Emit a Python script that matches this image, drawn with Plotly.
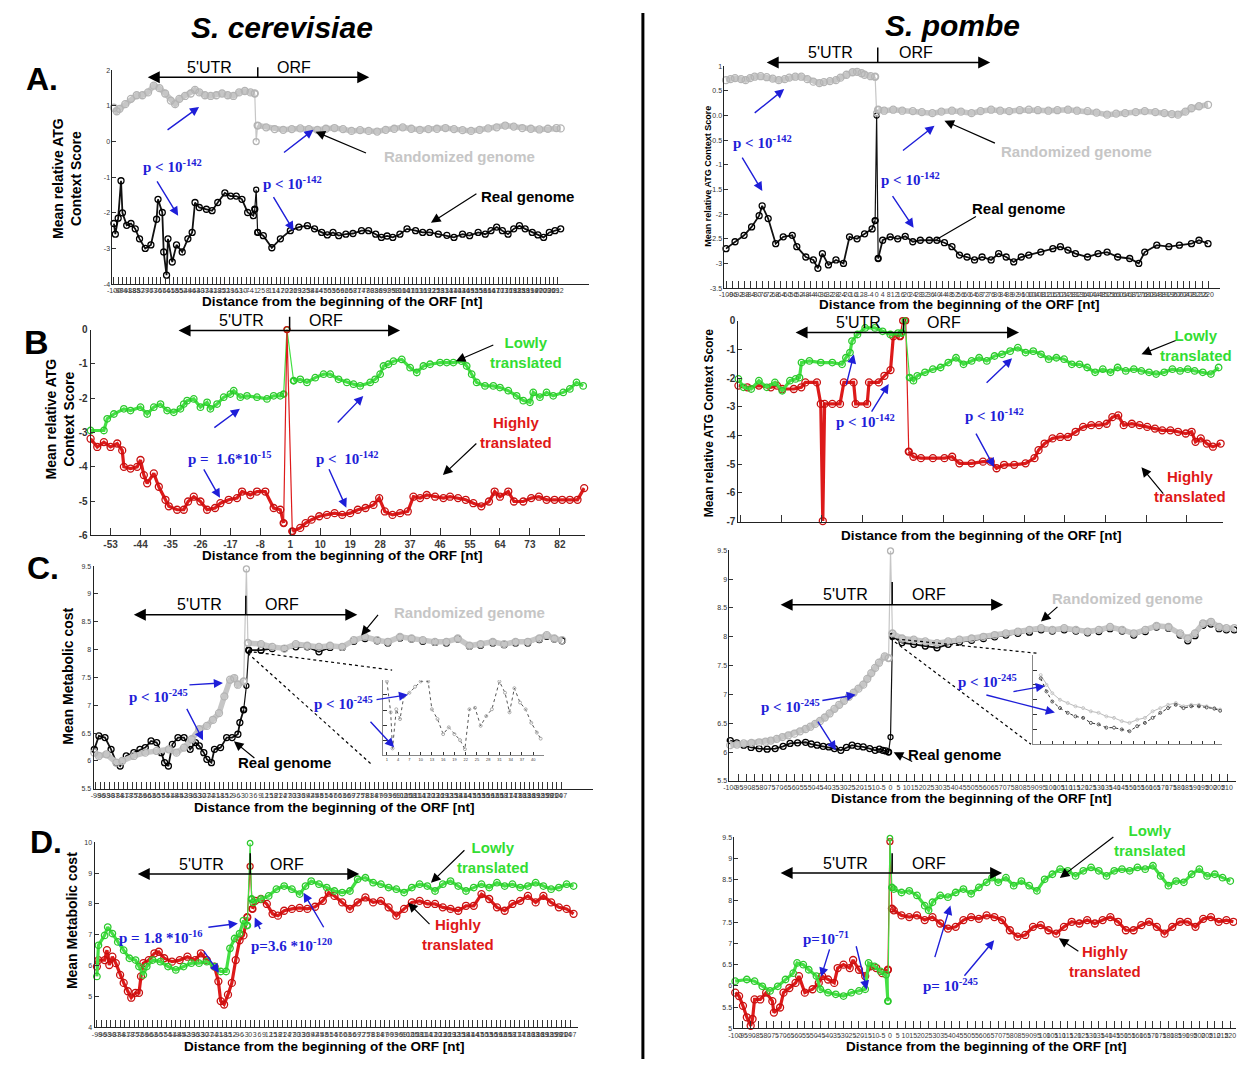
import plotly.graph_objects as go

W, H = 1237, 1065
SANS = "Liberation Sans, Arial, Helvetica, sans-serif"
SERIF = "Liberation Serif, Times New Roman, serif"
BLUE = "#1e1ed8"
GREEN_TXT = "#33dd33"
RED_TXT = "#e01818"
GREY_TXT = "#c6c6c6"

STYLE = {
    "rand": dict(line="#c6c6c6", lw=5.5, mk="#b4b4b4", ms=7),
    "real": dict(line="#111111", lw=1.8, mk="#000000", ms=6),
    "low": dict(line="#44e044", lw=3.2, mk="#2cc92c", ms=6.5),
    "high": dict(line="#dd1a1a", lw=3.2, mk="#c81010", ms=7),
}

# ---------------- S. cerevisiae A: ATG context score, real vs randomized ----------------
A1_RAND_X = [-100, -98, -96, -92, -88, -84, -80, -76, -72, -68, -64, -60, -57, -54, -50, -46, -43, -40,
             -36, -32, -28, -24, -20, -16, -12, -8, -4, -1,
             0,
             1, 7, 13, 19, 25, 31, 37, 43, 49, 55, 61, 67, 73, 79, 85, 91, 97, 103, 109, 115, 121, 127,
             133, 139, 145, 151, 157, 163, 169, 175, 181, 187, 193, 199, 205, 211, 214]
A1_RAND_Y = [0.95, 0.85, 0.92, 1.05, 1.2, 1.3, 1.3, 1.38, 1.57, 1.5, 1.35, 1.15, 1.05, 1.2, 1.28, 1.35, 1.45, 1.38,
             1.3, 1.28, 1.3, 1.35, 1.3, 1.28, 1.38, 1.42, 1.38, 1.35,
             0.0,
             0.45, 0.4, 0.35, 0.33, 0.35, 0.37, 0.35, 0.33, 0.36, 0.38, 0.35, 0.3, 0.32, 0.3, 0.28, 0.33, 0.36, 0.4,
             0.36, 0.33, 0.35, 0.36, 0.38, 0.35, 0.32, 0.3, 0.33, 0.37, 0.4, 0.45, 0.42, 0.38, 0.36, 0.34, 0.36,
             0.38, 0.37]
A1_REAL_X = [-100, -99, -97, -95, -94, -91, -88, -85, -82, -78, -74, -70, -69, -66, -65, -63, -62, -59, -56, -52,
             -48, -45, -43, -40, -35, -31, -27, -22, -18, -14, -10, -6, -2, -1,
             0,
             1, 5, 11, 17, 24, 30, 36, 41, 46, 50, 54, 58, 63, 68, 74, 79, 84, 88, 92, 96, 101, 106, 112, 117,
             122, 128, 134, 139, 145, 150, 156, 161, 165, 169, 173, 177, 181, 185, 189, 194, 198, 202, 206, 210, 214]
A1_REAL_Y = [-2.3, -2.6, -2.15, -1.1, -2.0, -2.35, -2.3, -2.45, -2.73, -3.0, -2.9, -2.18, -1.62, -1.99, -3.1,
             -3.75, -2.73, -3.38, -2.9, -3.1, -2.73, -2.55, -1.71, -1.85, -1.9, -1.94, -1.71, -1.44, -1.53, -1.53,
             -1.62, -1.99, -2.08, -1.9,
             -1.35,
             -2.55, -2.64, -2.98, -2.73, -2.5, -2.4, -2.36, -2.45, -2.55, -2.62, -2.55, -2.64, -2.6, -2.58, -2.5,
             -2.5, -2.6, -2.69, -2.65, -2.69, -2.6, -2.45, -2.5, -2.55, -2.55, -2.6, -2.63, -2.69, -2.6, -2.64,
             -2.55, -2.6, -2.5, -2.4, -2.5, -2.6, -2.45, -2.36, -2.45, -2.55, -2.62, -2.69, -2.55, -2.5, -2.45]
A1_XTICKS = list(range(-100, 215, 3))
A1_YTICKS = [-4, -3, -2, -1, 0, 1, 2]

# ---------------- S. pombe A ----------------
A2_RAND_X = [-100, -97, -94, -90, -87, -84, -81, -77, -73, -69, -65, -61, -58, -54, -50, -46, -42, -38, -35,
             -31, -27, -24, -20, -16, -13, -10, -8, -4, -1,
             0,
             1, 5, 11, 17, 24, 30, 37, 43, 50, 56, 63, 69, 76, 82, 88, 95, 101, 107, 114, 120, 127, 133, 140,
             146, 153, 159, 165, 172, 178, 185, 191, 196, 200, 205, 209, 214, 220]
A2_RAND_Y = [0.72, 0.74, 0.76, 0.74, 0.72, 0.76, 0.79, 0.8, 0.78, 0.75, 0.72, 0.74, 0.77, 0.79, 0.79, 0.74, 0.69,
             0.66, 0.68, 0.7, 0.72, 0.77, 0.83, 0.88, 0.89, 0.86, 0.83, 0.8, 0.79,
             0.05,
             0.12, 0.1, 0.12, 0.1, 0.09, 0.07, 0.05, 0.08, 0.1, 0.08, 0.05, 0.09, 0.12, 0.1, 0.09, 0.11, 0.12,
             0.11, 0.1, 0.11, 0.12, 0.1, 0.09, 0.06, 0.02, 0.04, 0.05, 0.07, 0.09, 0.07, 0.05, 0.03, 0.02, 0.08,
             0.15, 0.19, 0.22]
A2_REAL_X = [-100, -94, -88, -83, -78, -76, -72, -67, -62, -56, -53, -47, -42, -39, -36, -32, -27, -22, -18,
             -13, -8, -3, -1,
             0,
             1, 4, 9, 14, 19, 24, 29, 35, 40, 45, 50, 55, 60, 65, 70, 76, 81, 86, 91, 96, 101, 109, 117, 122,
             127, 132, 140, 147, 153, 160, 168, 174, 178, 186, 194, 201, 209, 214, 220]
A2_REAL_Y = [-2.7, -2.56, -2.43, -2.26, -2.03, -1.83, -2.09, -2.6, -2.46, -2.43, -2.66, -2.87, -2.93, -3.1, -2.8,
             -3.03, -2.93, -3.0, -2.46, -2.5, -2.4, -2.3, -2.13,
             0.0,
             -2.9, -2.53, -2.46, -2.5, -2.45, -2.56, -2.53, -2.53, -2.53, -2.58, -2.66, -2.83, -2.87, -2.93,
             -2.87, -2.93, -2.8, -2.87, -2.97, -2.87, -2.83, -2.77, -2.7, -2.66, -2.73, -2.8, -2.87, -2.8, -2.77,
             -2.87, -2.9, -3.0, -2.77, -2.63, -2.66, -2.63, -2.6, -2.53, -2.6]
A2_XTICKS = list(range(-100, 221, 4))
A2_YTICKS = [-3.5, -3, -2.5, -2, -1.5, -1, -0.5, 0, 0.5, 1]
A2_YLABELS = ["-3.5", "-3", "-2.5", "-2", "-1.5", "-1", "-0.5", "0.0", "0.5", "1"]

# ---------------- S. cerevisiae B: lowly vs highly translated ----------------
B1_LOW_X = [-59, -55, -54, -52, -49, -47, -44, -42, -40, -38, -36, -34, -32, -31, -30, -28, -26, -24, -23, -21,
            -19, -17, -16, -14, -12, -9, -6, -4, -2, -1,
            0,
            2, 4, 6, 8.5, 11, 13, 15.5, 18, 20, 22, 25, 26.5, 28, 29, 30.5, 32, 34.5, 37, 39, 41, 43, 46, 48,
            50, 52.5, 54, 55.5, 57, 59.5, 62, 64, 66.5, 69, 71, 73, 74, 76, 78, 80, 83, 85, 87, 89]
B1_LOW_Y = [-2.94, -2.94, -2.6, -2.46, -2.31, -2.36, -2.26, -2.46, -2.26, -2.17, -2.36, -2.41, -2.31, -2.17, -2.07,
            -2.02, -2.26, -2.12, -2.31, -2.17, -1.97, -1.88, -1.78, -1.97, -1.93, -1.97, -2.02, -1.93, -1.93, -1.88,
            0.0,
            -1.49, -1.45, -1.54, -1.4, -1.3, -1.3, -1.45, -1.54, -1.59, -1.64, -1.54, -1.45, -1.3, -1.06, -1.01,
            -0.92, -0.87, -1.11, -1.25, -1.06, -1.01, -0.96, -0.96, -0.96, -0.92, -1.06, -1.3, -1.54, -1.64, -1.64,
            -1.69, -1.78, -1.93, -2.07, -2.12, -1.83, -1.97, -1.83, -1.93, -1.83, -1.73, -1.54, -1.64]
B1_HIGH_X = [-59, -57, -55, -53, -51, -49.5, -49, -47, -45, -44, -43, -42, -40, -38.5, -36.5, -35.5, -33, -31,
             -29.7, -28, -26, -24, -21.6, -20, -17.5, -15, -13.5, -11, -9, -6.5, -4, -2, -1,
             0,
             1.6, 4, 5.6, 7.4, 9.7, 12, 14.3, 16.6, 19, 21.3, 23.6, 26, 27.7, 29.4, 31.7, 34, 36.3, 38, 40, 42,
             44.5, 47, 49, 51.4, 53.7, 56, 58.4, 60.7, 62.4, 64, 66.5, 68.2, 71, 73.4, 75.7, 78, 80.4, 82.7, 85,
             87.3, 89.3]
B1_HIGH_Y = [-3.18, -3.42, -3.28, -3.42, -3.32, -3.52, -4.0, -4.05, -4.0, -3.8, -4.24, -4.48, -4.19, -4.58, -4.96,
             -5.15, -5.25, -5.25, -5.01, -4.87, -5.01, -5.25, -5.2, -5.06, -4.96, -4.91, -4.72, -4.82, -4.72, -4.72,
             -5.2, -5.25, -5.64,
             0.0,
             -5.88, -5.78, -5.64, -5.54, -5.44, -5.4, -5.35, -5.4, -5.35, -5.25, -5.2, -5.11, -4.91, -5.3, -5.4,
             -5.35, -5.3, -4.87, -4.91, -4.82, -4.87, -4.91, -4.87, -4.91, -4.96, -5.06, -5.15, -5.01, -4.72, -4.87,
             -4.72, -5.01, -5.01, -4.91, -4.87, -4.96, -4.96, -4.96, -4.96, -4.96, -4.62]
B1_XTICKS = list(range(-53, 83, 9))
B1_YTICKS = [-6, -5, -4, -3, -2, -1, 0]

# ---------------- S. pombe B ----------------
B2_LOW_X = [-81, -78.5, -74.7, -70.9, -67, -63, -59.4, -55.6, -52.8, -50.9, -49.9, -46, -40.4, -34.7, -29.9, -28,
            -26, -25, -22.3, -18.5, -13.7, -9.9, -6.1, -2.3, -0.5,
            1, 3.4, 5.3,
            7.2, 11, 14.9, 18.7, 22.5, 26.3, 30, 34, 37.7, 41.5, 45.3, 49, 53, 56.8, 60.6, 64.4, 68.2, 72, 75.8,
            79.6, 83.4, 87.2, 91, 94.9, 98.7, 102.5, 106, 110, 114, 117.7, 121.5, 125, 129, 133, 136.8, 140.6, 144,
            148, 152, 155.8]
B2_LOW_Y = [-2.03, -2.32, -2.38, -2.09, -2.32, -2.15, -2.44, -2.09, -2.03, -1.98, -1.46, -1.4, -1.46, -1.46, -1.52,
            -1.29, -1.11, -0.71, -0.48, -0.25, -0.25, -0.37, -0.48, -0.43, -0.43,
            0.0, -1.98, -2.09,
            -1.92, -1.8, -1.69, -1.63, -1.46, -1.29, -1.52, -1.4, -1.29, -1.4, -1.23, -1.17, -1.06, -0.94, -1.11,
            -1.06, -1.17, -1.34, -1.29, -1.34, -1.52, -1.52, -1.63, -1.8, -1.69, -1.8, -1.63, -1.75, -1.69, -1.75,
            -1.8, -1.86, -1.8, -1.69, -1.75, -1.69, -1.75, -1.8, -1.86, -1.63]
B2_HIGH_X = [-81, -76.6, -70.9, -65, -62, -59.4, -53.7, -50, -48, -42.3, -40.4, -39.4, -38.5, -34.7, -30.9, -29,
             -24.2, -23.2, -17.5, -16.6, -11.8, -9, -6, -4.6, -1.3,
             0, 1.5, 3,
             5.3, 9, 14.9, 20.6, 24.4, 28, 34, 39.6, 43.4, 46.3, 50, 55, 60.6, 65, 67, 70, 73.9, 77.7, 81.5, 85.3,
             89, 93, 96.8, 100.6, 103.4, 106.3, 109, 113, 116.8, 120.6, 124.4, 128, 132, 135.8, 139.6, 142.5,
             144.4, 147, 150, 153, 156.8]
B2_HIGH_Y = [-2.26, -2.32, -2.26, -2.32, -2.26, -2.38, -2.38, -2.32, -2.15, -2.15, -2.9, -6.98, -2.9, -2.9, -2.9,
             -2.15, -2.15, -2.9, -2.9, -2.15, -2.15, -1.92, -1.72, -0.54, -0.54,
             0.0, 0.0, -4.56,
             -4.74, -4.79, -4.79, -4.79, -4.74, -4.97, -4.97, -4.91, -4.91, -5.14, -5.02, -5.02, -4.97, -4.79,
             -4.51, -4.28, -4.1, -4.05, -4.05, -3.87, -3.7, -3.64, -3.64, -3.59, -3.36, -3.3, -3.64, -3.59, -3.64,
             -3.7, -3.76, -3.82, -3.82, -3.87, -3.93, -3.87, -4.22, -4.1, -4.28, -4.39, -4.28]
B2_XTICKS = list(range(-80, 141, 20))
B2_YTICKS = [-7, -6, -5, -4, -3, -2, -1, 0]

# ---------------- S. cerevisiae C: metabolic cost, real vs randomized ----------------
C1_RAND_X = [-100, -97, -92, -85.5, -81.7, -74, -66.5, -59, -51, -46, -41, -36, -31, -26, -22, -18, -14.5,
             -10.7, -8, -5.6, -1.8,
             0,
             1, 9.6, 17, 25, 32.5, 40, 47.7, 55, 63, 70.6, 78, 86, 93, 101, 108.6, 116, 124, 131.5, 139, 146.7,
             154, 162, 169.5, 177, 185, 192.6, 197.5, 202.5, 207.6]
C1_RAND_Y = [6.15, 6.09, 6.12, 5.97, 6.0, 6.09, 6.15, 6.18, 6.21, 6.15, 6.24, 6.39, 6.57, 6.63, 6.74, 6.86, 7.16,
             7.46, 7.49, 7.37, 7.43,
             9.45,
             8.12, 8.1, 8.05, 8.02, 8.1, 8.07, 8.05, 8.07, 8.05, 8.17, 8.23, 8.17, 8.14, 8.23, 8.2, 8.17, 8.14,
             8.14, 8.2, 8.07, 8.1, 8.14, 8.1, 8.14, 8.14, 8.2, 8.26, 8.2, 8.17]
C1_REAL_X = [-100, -97, -93, -89, -85.5, -83, -79, -74, -70, -66.5, -62.7, -59, -56, -53.8, -51.3, -48.7, -45, -41,
             -37, -33.5, -31, -28, -26, -23, -21, -17, -13, -9.4, -5.6, -4.3, -1.8,
             0,
             1.5, 9.6, 17, 25, 32.5, 40, 47.7, 55, 63, 70.6, 78, 86, 93, 101, 108.6, 116, 124, 131.5, 139, 146.7,
             154, 162, 169.5, 177, 185, 192.6, 197.5, 202.5, 207.6]
C1_REAL_Y = [6.21, 6.45, 6.42, 6.21, 5.97, 5.91, 6.09, 6.15, 6.21, 6.24, 6.36, 6.33, 6.15, 5.97, 5.91, 6.3, 6.42,
             6.42, 6.21, 6.33, 6.27, 6.15, 6.03, 5.97, 6.21, 6.24, 6.42, 6.42, 6.48, 6.69, 6.92,
             7.35,
             7.99, 7.99, 8.02, 8.02, 8.05, 8.05, 7.96, 8.04, 8.04, 8.15, 8.2, 8.16, 8.12, 8.21, 8.19, 8.15, 8.13,
             8.12, 8.19, 8.06, 8.08, 8.12, 8.09, 8.12, 8.12, 8.18, 8.24, 8.19, 8.16]
C1_XTICKS = list(range(-99, 208, 3))
C_YTICKS = [5.5, 6, 6.5, 7, 7.5, 8, 8.5, 9, 9.5]

# close-up of the first ORF codons (inset)
C1_INSET_X = [1, 2, 2.5, 3.5, 4.5, 5.5, 7, 8.5, 10, 12, 13, 14.5, 16, 17.5, 19, 20.5, 21.8, 23, 24.5, 26, 27.5,
              29, 31, 32.5, 33.7, 35, 36.5, 38, 39.5, 41, 42]
C1_INSET_Y = [8.058, 8.017, 7.969, 8.021, 8.008, 8.038, 8.043, 8.051, 8.058, 8.058, 8.021, 8.008, 7.988, 7.997,
              7.988, 7.98, 7.968, 8.021, 8.023, 7.999, 8.012, 8.021, 8.058, 8.043, 8.017, 8.049, 8.03, 8.021,
              8.003, 7.99, 7.982]

# ---------------- S. pombe C ----------------
C2_RAND_X = [-100, -95.8, -91.6, -86.8, -82, -78, -74.7, -71, -67.5, -63.8, -60, -56.5, -53, -50, -47, -44, -41,
             -38, -35, -32, -29, -26, -23, -20, -17, -14.5, -12, -9.6, -7.2, -3.6, -1.2,
             0,
             1.2, 7.2, 14.5, 21.7, 29, 36, 43, 50.6, 58, 65, 72, 79.5, 86.7, 94, 101, 108.4, 115.7, 123, 130, 137,
             144.6, 151.8, 159, 166, 173.5, 180.7, 185.5, 190, 195, 200, 205, 209.6, 214.5]
C2_RAND_Y = [6.12, 6.13, 6.15, 6.16, 6.17, 6.18, 6.2, 6.23, 6.26, 6.29, 6.32, 6.36, 6.4, 6.44, 6.49, 6.54, 6.6,
             6.67, 6.75, 6.82, 6.89, 6.96, 7.03, 7.1, 7.17, 7.27, 7.37, 7.46, 7.55, 7.66, 7.63,
             9.49,
             8.06, 7.97, 7.95, 7.92, 7.89, 7.92, 7.95, 7.97, 8.0, 8.03, 8.06, 8.09, 8.12, 8.15, 8.12, 8.15, 8.12,
             8.09, 8.12, 8.17, 8.12, 8.06, 8.12, 8.19, 8.17, 8.06, 7.97, 8.06, 8.23, 8.26, 8.17, 8.15, 8.15]
C2_REAL_X = [-100, -96, -91.6, -87, -82, -77, -72, -67, -62.7, -58, -53, -49.5, -45.8, -42, -38.5, -35, -31,
             -27.5, -24, -20.5, -17, -13, -9.6, -7, -4.8, -3, -1.2,
             0,
             1.2, 7.2, 14.5, 21.7, 29, 36, 43, 50.6, 58, 65, 72, 79.5, 86.7, 94, 101, 108.4, 115.7, 123, 130, 137,
             144.6, 151.8, 159, 166, 173.5, 180.7, 185.5, 190, 195, 200, 205, 209.6, 214.5]
C2_REAL_Y = [6.2, 6.16, 6.12, 6.08, 6.06, 6.05, 6.06, 6.1, 6.15, 6.16, 6.17, 6.14, 6.12, 6.1, 6.09, 6.06, 6.03,
             6.08, 6.12, 6.1, 6.09, 6.06, 6.03, 6.05, 6.03, 6.02, 6.0,
             6.26,
             8.01, 7.9, 7.87, 7.84, 7.81, 7.87, 7.91, 7.94, 7.97, 8.0, 8.03, 8.06, 8.08, 8.12, 8.1, 8.12, 8.1,
             8.07, 8.09, 8.14, 8.1, 8.03, 8.09, 8.17, 8.15, 8.03, 7.93, 8.02, 8.2, 8.22, 8.14, 8.12, 8.12]
C2_XTICKS = list(range(-100, 216, 5))

C2_INSET_X = [2, 3.5, 5, 7, 9, 11, 13, 15, 17, 19, 21, 23, 25, 27, 29, 31, 33, 35, 37, 39, 41, 43, 45, 47, 48.5]
C2_INSET_RAND = [8.033, 8.0, 7.972, 7.95, 7.939, 7.928, 7.922, 7.911, 7.906, 7.894, 7.889, 7.878, 7.872, 7.883,
                 7.889, 7.911, 7.922, 7.933, 7.939, 7.928, 7.933, 7.933, 7.928, 7.922, 7.917]
C2_INSET_REAL = [8.022, 7.978, 7.944, 7.922, 7.906, 7.894, 7.889, 7.872, 7.867, 7.856, 7.856, 7.85, 7.844, 7.861,
                 7.872, 7.889, 7.906, 7.922, 7.933, 7.922, 7.928, 7.928, 7.924, 7.92, 7.913]

# ---------------- S. cerevisiae D: metabolic cost, lowly vs highly translated ----------------
D1_LOW_X = [-99, -98, -94, -92, -89, -85.5, -81.7, -78, -74, -71.8, -69, -66.8, -63, -58, -53, -48, -43, -38, -33,
            -28, -23, -19, -15.5, -13, -10, -6.8, -4.3, -1.8,
            0,
            1, 2, 7, 12, 17, 22, 27, 32, 35.8, 39.5, 44.5, 49.5, 54.5, 59.5, 64.5, 69.5, 74.5, 79.5, 84.5, 89.5,
            94.5, 99.5, 104.5, 109.5, 114.5, 119.5, 124.5, 129.5, 134.5, 139.5, 144.5, 149.5, 154.5, 159.5, 164.5,
            169.5, 174.5, 179.5, 184.5, 189.5, 194.5, 199.5, 204.5, 209]
D1_LOW_Y = [5.65, 6.66, 6.98, 7.25, 7.04, 6.77, 6.5, 6.24, 6.18, 5.97, 5.7, 5.97, 6.18, 6.13, 5.97, 5.86, 5.97,
            6.08, 6.08, 6.13, 5.97, 5.81, 5.81, 6.56, 6.88, 7.04, 7.46, 7.3,
            9.97,
            8.16, 8.05, 8.16, 8.26, 8.48, 8.58, 8.48, 8.32, 8.58, 8.74, 8.64, 8.53, 8.42, 8.37, 8.42, 8.8, 8.85,
            8.69, 8.64, 8.53, 8.48, 8.37, 8.53, 8.64, 8.58, 8.42, 8.64, 8.74, 8.58, 8.42, 8.53, 8.64, 8.53, 8.69,
            8.58, 8.64, 8.53, 8.58, 8.69, 8.58, 8.48, 8.53, 8.64, 8.58]
D1_HIGH_X = [-99, -98, -94, -92.5, -91, -89, -86.8, -84, -81.7, -79, -76.8, -74, -71.8, -70.5, -69, -65.5, -61.8,
             -59, -55.5, -50.5, -45.5, -40.5, -35.5, -31.8, -28, -23, -20.5, -19, -16.8, -14.3, -11.8, -9.3, -6.8,
             -4.3, -1.8,
             0,
             1.5, 3.3, 7, 10.8, 14.5, 18, 22, 27, 32, 37, 42, 47, 50.8, 54.5, 59.5, 64.5, 69.5, 74.5, 79.5, 84.5,
             89.5, 94.5, 99.5, 104.5, 109.5, 114.5, 119.5, 124.5, 129.5, 134.5, 139.5, 144.5, 149.5, 154.5, 159.5,
             164.5, 169.5, 174.5, 179.5, 184.5, 189.5, 194.5, 199.5, 204.5, 209]
D1_HIGH_Y = [5.97, 6.18, 6.18, 6.5, 6.02, 6.29, 6.08, 5.7, 5.44, 5.17, 4.96, 5.12, 5.12, 5.65, 6.08, 6.18, 6.4,
             6.45, 6.24, 6.13, 6.18, 6.29, 6.18, 6.4, 6.18, 5.97, 5.49, 4.85, 4.74, 5.06, 5.44, 6.18, 6.82, 6.98,
             7.57,
             9.22,
             7.84, 8.1, 8.16, 8.0, 7.68, 7.62, 7.78, 7.84, 7.87, 7.84, 7.91, 8.1, 8.37, 8.26, 8.05, 7.84, 8.05, 8.21,
             8.05, 8.1, 7.89, 7.62, 7.84, 8.05, 8.1, 8.0, 8.0, 7.89, 7.84, 7.78, 7.94, 7.94, 8.32, 8.16, 7.89, 7.78,
             8.0, 8.1, 8.26, 8.05, 8.26, 8.05, 7.89, 7.84, 7.68]
D1_XTICKS = list(range(-99, 210, 3))
D1_YTICKS = [4, 5, 6, 7, 8, 9, 10]

# ---------------- S. pombe D ----------------
D2_LOW_X = [-100, -92.5, -87.5, -82.5, -77.5, -72.5, -67.5, -62.5, -60, -56, -52.5, -47.5, -45, -40, -35, -30, -25,
            -20, -16, -13.8, -10, -6, -2.5, -1.3,
            0,
            1.3, 2.5, 7.5, 12.5, 17.5, 22.5, 25, 27.5, 32.5, 37.5, 42.5, 47.5, 52.5, 57.5, 62.5, 66, 70, 75, 80,
            85, 90, 95, 100, 105, 110, 115, 120, 125, 130, 135, 140, 145, 150, 155, 160, 165, 170, 175, 180, 185,
            190, 195, 200, 205, 210, 215, 220]
D2_LOW_Y = [6.11, 6.15, 6.11, 5.99, 5.88, 5.99, 6.15, 6.3, 6.54, 6.5, 6.38, 6.23, 5.92, 5.84, 5.8, 5.76, 5.84,
            5.88, 5.92, 6.54, 6.46, 6.34, 6.26, 5.64,
            9.48,
            8.32, 8.28, 8.2, 8.24, 8.13, 7.89, 7.78, 7.97, 8.13, 8.09, 8.2, 8.28, 8.17, 8.32, 8.44, 8.55, 8.44,
            8.55, 8.36, 8.47, 8.36, 8.24, 8.51, 8.63, 8.75, 8.71, 8.59, 8.71, 8.79, 8.71, 8.59, 8.71, 8.75, 8.71,
            8.79, 8.75, 8.83, 8.59, 8.36, 8.47, 8.44, 8.63, 8.75, 8.59, 8.63, 8.55, 8.47]
D2_HIGH_X = [-100, -97.5, -95, -92.5, -90, -88.8, -87.5, -83.8, -80, -76, -75, -71, -68.8, -65, -61, -58.8, -55,
             -50, -46, -43.8, -40, -36, -33.8, -30, -26, -23.8, -20, -16, -12.5, -8.8, -5, -1.3,
             0,
             1.3, 2.5, 7.5, 12.5, 17.5, 22.5, 27.5, 32.5, 37.5, 42.5, 47.5, 52.5, 57.5, 62.5, 67.5, 72.5, 77.5,
             82.5, 87.5, 92.5, 97.5, 102.5, 107.5, 112.5, 117.5, 122.5, 127.5, 132.5, 137.5, 142.5, 147.5, 152.5,
             157.5, 162.5, 167.5, 172.5, 177.5, 182.5, 187.5, 192.5, 197.5, 202.5, 207.5, 212.5, 217.5, 222]
D2_HIGH_Y = [5.84, 5.76, 5.53, 5.26, 5.06, 5.22, 5.68, 5.68, 5.84, 5.64, 5.37, 5.49, 5.84, 5.95, 6.07, 6.23, 5.84,
             5.92, 6.07, 6.23, 6.15, 6.07, 6.42, 6.5, 6.42, 6.61, 6.38, 6.23, 6.46, 6.42, 6.3, 6.38,
             9.4,
             7.82, 7.78, 7.66, 7.62, 7.66, 7.55, 7.62, 7.47, 7.35, 7.39, 7.55, 7.62, 7.58, 7.66, 7.62, 7.55, 7.31,
             7.16, 7.2, 7.39, 7.43, 7.31, 7.23, 7.39, 7.51, 7.47, 7.55, 7.47, 7.55, 7.62, 7.51, 7.31, 7.31, 7.43,
             7.51, 7.39, 7.23, 7.39, 7.51, 7.51, 7.39, 7.58, 7.62, 7.51, 7.55, 7.51]
D2_XTICKS = list(range(-100, 224, 5))
D2_YTICKS = [5, 5.5, 6, 6.5, 7, 7.5, 8, 8.5, 9, 9.5]


def num(v):
    return f"{v:g}"


# panel geometry in page pixels: (left, right, top, bottom); "jump" = last x of the start-codon spike
PANELS = [
    dict(n=1, px=(107, 586, 66, 282), xr=[-101, 234], yr=[-4, 2], jump=0.5,
         xt=A1_XTICKS, xl=[num(v) for v in A1_XTICKS], xfs=7,
         yt=A1_YTICKS, yl=[num(v) for v in A1_YTICKS], yfs=7, ybold=False,
         series=[("real", A1_REAL_X, A1_REAL_Y), ("rand", A1_RAND_X, A1_RAND_Y)]),
    dict(n=2, px=(722, 1220, 62, 286), xr=[-101, 228], yr=[-3.5, 1], jump=0.5,
         xt=A2_XTICKS, xl=[num(v) for v in A2_XTICKS], xfs=7,
         yt=A2_YTICKS, yl=A2_YLABELS, yfs=7, ybold=False,
         series=[("real", A2_REAL_X, A2_REAL_Y), ("rand", A2_RAND_X, A2_RAND_Y)]),
    dict(n=3, px=(85, 582, 328, 536), xr=[-59, 89.6], yr=[-6, 0], jump=0.5,
         xt=B1_XTICKS, xl=[num(v) for v in B1_XTICKS], xfs=10,
         yt=B1_YTICKS, yl=[num(v) for v in B1_YTICKS], yfs=10, ybold=True,
         series=[("low", B1_LOW_X, B1_LOW_Y), ("high", B1_HIGH_X, B1_HIGH_Y)]),
    dict(n=4, px=(736, 1223, 319, 522), xr=[-81, 158], yr=[-7, 0], jump=2,
         xt=B2_XTICKS, xl=["" for _ in B2_XTICKS], xfs=6,
         yt=B2_YTICKS, yl=[num(v) for v in B2_YTICKS], yfs=10, ybold=True,
         series=[("high", B2_HIGH_X, B2_HIGH_Y), ("low", B2_LOW_X, B2_LOW_Y)]),
    dict(n=5, px=(88, 590, 567, 792), xr=[-100.5, 228], yr=[5.5, 9.5], jump=0.5,
         xt=C1_XTICKS, xl=[num(v) for v in C1_XTICKS], xfs=7,
         yt=C_YTICKS, yl=[num(v) for v in C_YTICKS], yfs=7, ybold=False,
         series=[("real", C1_REAL_X, C1_REAL_Y), ("rand", C1_RAND_X, C1_RAND_Y)]),
    dict(n=6, px=(727, 1236, 551, 784), xr=[-100.5, 215.6], yr=[5.5, 9.5], jump=0.5,
         xt=C2_XTICKS, xl=[num(v) for v in C2_XTICKS], xfs=7,
         yt=C_YTICKS, yl=[num(v) for v in C_YTICKS], yfs=7, ybold=False,
         series=[("real", C2_REAL_X, C2_REAL_Y), ("rand", C2_RAND_X, C2_RAND_Y)]),
    dict(n=7, px=(89, 575, 846, 1033), xr=[-100.5, 212], yr=[4, 10], jump=0.5,
         xt=D1_XTICKS, xl=[num(v) for v in D1_XTICKS], xfs=7,
         yt=D1_YTICKS, yl=[num(v) for v in D1_YTICKS], yfs=7, ybold=False,
         series=[("high", D1_HIGH_X, D1_HIGH_Y), ("low", D1_LOW_X, D1_LOW_Y)]),
    dict(n=8, px=(732, 1236, 841, 1034), xr=[-100.5, 223.7], yr=[5, 9.5], jump=0.5,
         xt=D2_XTICKS, xl=[num(v) for v in D2_XTICKS], xfs=7,
         yt=D2_YTICKS, yl=[num(v) for v in D2_YTICKS], yfs=7, ybold=False,
         series=[("high", D2_HIGH_X, D2_HIGH_Y), ("low", D2_LOW_X, D2_LOW_Y)]),
]

fig = go.Figure()


def refs(n):
    return ("x" if n == 1 else f"x{n}", "y" if n == 1 else f"y{n}")


def keys(n):
    return ("xaxis" if n == 1 else f"xaxis{n}", "yaxis" if n == 1 else f"yaxis{n}")


def add_axes(n, px, xr, yr, xt, xl, xfs, yt, yl, yfs, ybold, lw=1.0, lc="#222", tl=7):
    xref, yref = refs(n)
    xk, yk = keys(n)
    x0, x1, yt_px, yb_px = px
    yl_txt = [f"<b>{s}</b>" for s in yl] if ybold else yl
    xl_txt = [f"<b>{s}</b>" for s in xl] if xfs >= 9 else xl
    fig.update_layout(**{
        xk: dict(domain=[x0 / W, x1 / W], range=xr, anchor=yref, showline=True, linecolor=lc,
                 linewidth=lw, ticks="inside", ticklen=tl, tickwidth=1, tickcolor="#333",
                 tickmode="array", tickvals=xt, ticktext=xl_txt, tickangle=0,
                 tickfont=dict(size=xfs, family=SANS, color="#3a3a3a"), showgrid=False,
                 zeroline=False, mirror=False),
        yk: dict(domain=[1 - yb_px / H, 1 - yt_px / H], range=yr, anchor=xref, showline=True,
                 linecolor=lc, linewidth=lw, ticks="inside", ticklen=4, tickwidth=1, tickcolor="#333",
                 tickmode="array", tickvals=yt, ticktext=yl_txt,
                 tickfont=dict(size=yfs, family=SANS, color="#333"), showgrid=False, zeroline=False),
    })


def scatter(n, xs, ys, color, lw, mk, ms):
    xref, yref = refs(n)
    fig.add_trace(go.Scatter(
        x=xs, y=ys, xaxis=xref, yaxis=yref, mode="lines+markers", cliponaxis=False,
        line=dict(color=color, width=lw),
        marker=dict(symbol="circle-open", size=ms, color=mk, line=dict(width=1.3)),
        hoverinfo="skip", showlegend=False))


def add_series(n, kind, xs, ys, jump):
    """Thick band for the 5'UTR and ORF parts, thin line through the start-codon spike."""
    s = STYLE[kind]
    utr = [i for i, v in enumerate(xs) if v < 0]
    spike = [i for i, v in enumerate(xs) if 0 <= v <= jump]
    orf = [i for i, v in enumerate(xs) if v > jump]
    link = [utr[-1]] + spike + [orf[0]]
    scatter(n, [xs[i] for i in link], [ys[i] for i in link], s["line"], 1.2, s["mk"], s["ms"] - 1)
    for part in (utr, orf):
        scatter(n, [xs[i] for i in part], [ys[i] for i in part], s["line"], s["lw"], s["mk"], s["ms"])


for p in PANELS:
    add_axes(p["n"], p["px"], p["xr"], p["yr"], p["xt"], p["xl"], p["xfs"], p["yt"], p["yl"],
             p["yfs"], p["ybold"])
    for kind, xs, ys in p["series"]:
        add_series(p["n"], kind, xs, ys, p["jump"])

# insets (close-ups of the ORF start in panel C)
add_axes(9, (379, 541, 682, 758), [0, 43], [7.96, 8.06], list(range(1, 43, 3)),
         [str(v) for v in range(1, 43, 3)], 4, [7.96, 7.98, 8.0, 8.02, 8.04, 8.06],
         ["", "", "", "", "", ""], 4, False, lw=0.8, lc="#888", tl=3)
fig.add_trace(go.Scatter(x=C1_INSET_X, y=C1_INSET_Y, xaxis="x9", yaxis="y9", mode="lines+markers",
                         line=dict(color="#555", width=1, dash="dot"),
                         marker=dict(symbol="circle-open", size=3, color="#aaa"),
                         hoverinfo="skip", showlegend=False))
add_axes(10, (1032, 1222, 657, 747), [0, 49], [7.8, 8.1], list(range(2, 49, 3)),
         ["" for _ in range(2, 49, 3)], 4, [7.8, 7.85, 7.9, 7.95, 8.0, 8.05, 8.1],
         ["", "", "", "", "", "", ""], 4, False, lw=0.8, lc="#888", tl=3)
fig.add_trace(go.Scatter(x=C2_INSET_X, y=C2_INSET_RAND, xaxis="x10", yaxis="y10", mode="lines+markers",
                         line=dict(color="#bbb", width=1),
                         marker=dict(symbol="circle-open", size=3, color="#c8c8c8"),
                         hoverinfo="skip", showlegend=False))
fig.add_trace(go.Scatter(x=C2_INSET_X, y=C2_INSET_REAL, xaxis="x10", yaxis="y10", mode="lines+markers",
                         line=dict(color="#333", width=1, dash="dot"),
                         marker=dict(symbol="circle-open", size=3, color="#555"),
                         hoverinfo="skip", showlegend=False))


# ---------------- annotations ----------------
ann = []
shapes = []


def T(px, py, s, size=15, color="black", family=SANS, bold=True, italic=False, xanchor="center", angle=0):
    if bold:
        s = f"<b>{s}</b>"
    if italic:
        s = f"<i>{s}</i>"
    ann.append(dict(x=px / W, y=1 - py / H, xref="paper", yref="paper", text=s, showarrow=False,
                    xanchor=xanchor, yanchor="middle", textangle=angle,
                    font=dict(size=size, color=color, family=family)))


def ARW(x0, y0, x1, y1, color=BLUE, width=1.4, size=1.3, head=2):
    ann.append(dict(x=x1 / W, y=1 - y1 / H, xref="paper", yref="paper", ax=x0 - x1, ay=y0 - y1,
                    axref="pixel", ayref="pixel", text="", showarrow=True, arrowhead=head,
                    arrowsize=size, arrowwidth=width, arrowcolor=color))


def DBL(x0, x1, y):
    ann.append(dict(x=x1 / W, y=1 - y / H, xref="paper", yref="paper", ax=x0 - x1, ay=0,
                    axref="pixel", ayref="pixel", text="", showarrow=True, arrowside="end+start",
                    arrowhead=2, startarrowhead=2, arrowsize=1.6, startarrowsize=1.6,
                    arrowwidth=1.5, arrowcolor="black"))


def LINE(x0, y0, x1, y1, width=1.5, dash="solid", color="black"):
    shapes.append(dict(type="line", xref="paper", yref="paper", x0=x0 / W, y0=1 - y0 / H,
                       x1=x1 / W, y1=1 - y1 / H, line=dict(color=color, width=width, dash=dash)))


def REGION(utr_x, orf_x, y, x0, x1, bar_x, bar_top):
    T(utr_x, y - 10, "5'UTR", 16, bold=False)
    T(orf_x, y - 10, "ORF", 16, bold=False)
    DBL(x0, x1, y)
    LINE(bar_x, bar_top, bar_x, y)


def PV(px, py, s):
    T(px, py, s, 15, BLUE, SERIF, xanchor="left")


XTITLE = "Distance from the beginning of the ORF [nt]"

# species headings and divider
T(277, 23, "S. cerevisiae", 30, italic=True)
T(951, 21, "S. pombe", 30, italic=True)
LINE(640, 8, 640, 1065, width=3)

# panel letters
T(36, 75, "A.", 32)
T(31, 341, "B", 34)
T(37, 569, "C.", 32)
T(40, 846, "D.", 32)

# A, S. cerevisiae
REGION(204, 289, 73, 142, 365, 253, 63)
ARW(161, 127, 194, 103)
ARW(278, 150, 309, 126)
ARW(151, 177, 173, 213)
ARW(268, 193, 289, 228)
PV(136, 163, "p &lt; 10<sup>-142</sup>")
PV(256, 180, "p &lt; 10<sup>-142</sup>")
ARW(363, 150, 311, 128, color="black", width=1.2, size=1.6)
ARW(474, 190, 427, 220, color="black", width=1.2, size=1.6)
T(456, 153, "Randomized genome", 15, GREY_TXT)
T(524, 194, "Real genome", 15)
T(61, 175, "Mean relative ATG<br>Context Score", 14, angle=-90)
T(338, 300, XTITLE, 13.5)

# A, S. pombe
REGION(829, 914, 58, 764, 989, 876, 43)
ARW(751, 110, 782, 85)
ARW(900, 148, 933, 122)
ARW(739, 153, 760, 188)
ARW(890, 192, 912, 225)
PV(729, 138, "p &lt; 10<sup>-142</sup>")
PV(877, 176, "p &lt; 10<sup>-142</sup>")
ARW(995, 140, 943, 117, color="black", width=1.2, size=1.6)
ARW(976, 213, 935, 237, color="black", width=1.2, head=0)
T(1076, 148, "Randomized genome", 15, GREY_TXT)
T(1017, 206, "Real genome", 15)
T(706, 173, "Mean relative ATG Context Score", 9, angle=-90)
T(958, 303, XTITLE, 13.5)

# B, S. cerevisiae
REGION(237, 322, 329, 173, 396, 285, 315)
ARW(208, 428, 235, 408)
ARW(332, 423, 359, 395)
ARW(198, 468, 215, 498)
ARW(324, 468, 342, 508)
PV(181, 458, "p =  1.6*10<sup>-15</sup>")
PV(309, 458, "p &lt;  10<sup>-142</sup>")
ARW(491, 343, 452, 360, color="black", width=1.2, size=1.6)
ARW(474, 442, 439, 475, color="black", width=1.2, size=1.6)
T(523, 351, "Lowly<br>translated", 15, GREEN_TXT)
T(512, 432, "Highly<br>translated", 15, RED_TXT)
T(54, 418, "Mean relative ATG<br>Context Score", 14, angle=-90)
T(338, 556, XTITLE, 13.5)

# B, S. pombe
REGION(857, 943, 331, 793, 1018, 902, 317)
ARW(844, 385, 852, 353)
ARW(869, 412, 887, 383)
ARW(984, 383, 1011, 357)
ARW(974, 432, 993, 467)
PV(832, 420, "p &lt; 10<sup>-142</sup>")
PV(962, 414, "p &lt; 10<sup>-142</sup>")
ARW(1178, 338, 1141, 353, color="black", width=1.2, size=1.6)
ARW(1164, 495, 1141, 467, color="black", width=1.2, size=1.6)
T(1196, 344, "Lowly<br>translated", 15, GREEN_TXT)
T(1190, 487, "Highly<br>translated", 15, RED_TXT)
T(706, 423, "Mean relative ATG Context Score", 12, angle=-90)
T(980, 536, XTITLE, 13.5)

# C, S. cerevisiae
REGION(194, 277, 616, 128, 353, 241, 597)
ARW(183, 687, 218, 685)
ARW(181, 710, 198, 743)
ARW(371, 702, 404, 697)
ARW(365, 723, 390, 750)
PV(122, 698, "p &lt; 10<sup>-245</sup>")
PV(307, 705, "p &lt; 10<sup>-245</sup>")
ARW(375, 615, 357, 637, color="black", width=1.2, size=1.6)
ARW(251, 762, 229, 744, color="black", width=1.2, size=1.6)
T(466, 614, "Randomized genome", 15, GREY_TXT)
T(280, 765, "Real genome", 15)
T(62, 678, "Mean Metabolic cost", 14, angle=-90)
T(330, 811, XTITLE, 13.5)
LINE(243, 653, 388, 672, width=1.2, dash="dot")
LINE(243, 655, 367, 767, width=1.2, dash="dot")

# C, S. pombe
REGION(844, 927, 606, 778, 1002, 890.5, 583)
ARW(819, 703, 854, 697)
ARW(815, 723, 834, 753)
ARW(1011, 694, 1044, 688)
ARW(984, 697, 1054, 715)
PV(757, 708, "p &lt; 10<sup>-245</sup>")
PV(955, 683, "p &lt; 10<sup>-245</sup>")
ARW(1058, 607, 1040, 623, color="black", width=1.2, size=1.6)
ARW(912, 765, 892, 755, color="black", width=1.2, size=1.6)
T(1127, 600, "Randomized genome", 15, GREY_TXT)
T(953, 757, "Real genome", 15)
T(970, 802, XTITLE, 13.5)
LINE(888.5, 640, 1036, 655, width=1.2, dash="dot")
LINE(888.5, 640, 1030, 747, width=1.2, dash="dot")

# D, S. cerevisiae
REGION(196, 282, 878, 132, 355, 245.4, 857)
ARW(202, 932, 233, 928)
ARW(198, 955, 214, 978)
ARW(256, 935, 250, 922)
ARW(320, 933, 299, 897)
PV(112, 942, "p = 1.8 *10<sup>-16</sup>")
PV(244, 950, "p=3.6 *10<sup>-120</sup>")
ARW(462, 853, 427, 887, color="black", width=1.2, size=1.6)
ARW(427, 930, 404, 907, color="black", width=1.2, size=1.6)
T(489, 861, "Lowly<br>translated", 15, GREEN_TXT)
T(454, 939, "Highly<br>translated", 15, RED_TXT)
T(67, 925, "Mean Metabolic cost", 14, angle=-90)
T(320, 1052, XTITLE, 13.5)

# D, S. pombe
REGION(844, 927, 877, 778, 1001, 890.5, 857)
ARW(828, 953, 819, 982)
ARW(854, 950, 865, 995)
ARW(933, 963, 949, 910)
ARW(962, 982, 993, 945)
PV(799, 943, "p=10<sup>-71</sup>")
PV(919, 990, "p= 10<sup>-245</sup>")
ARW(1114, 840, 1059, 882, color="black", width=1.2, size=1.6)
ARW(1079, 957, 1058, 943, color="black", width=1.2, size=1.6)
T(1150, 844, "Lowly<br>translated", 15, GREEN_TXT)
T(1104, 966, "Highly<br>translated", 15, RED_TXT)
T(985, 1052, XTITLE, 13.5)

fig.update_layout(width=W, height=H, margin=dict(l=0, r=0, t=0, b=0), paper_bgcolor="white",
                  plot_bgcolor="rgba(0,0,0,0)", showlegend=False, annotations=ann, shapes=shapes,
                  font=dict(family=SANS))

fig.write_html("out.html")
